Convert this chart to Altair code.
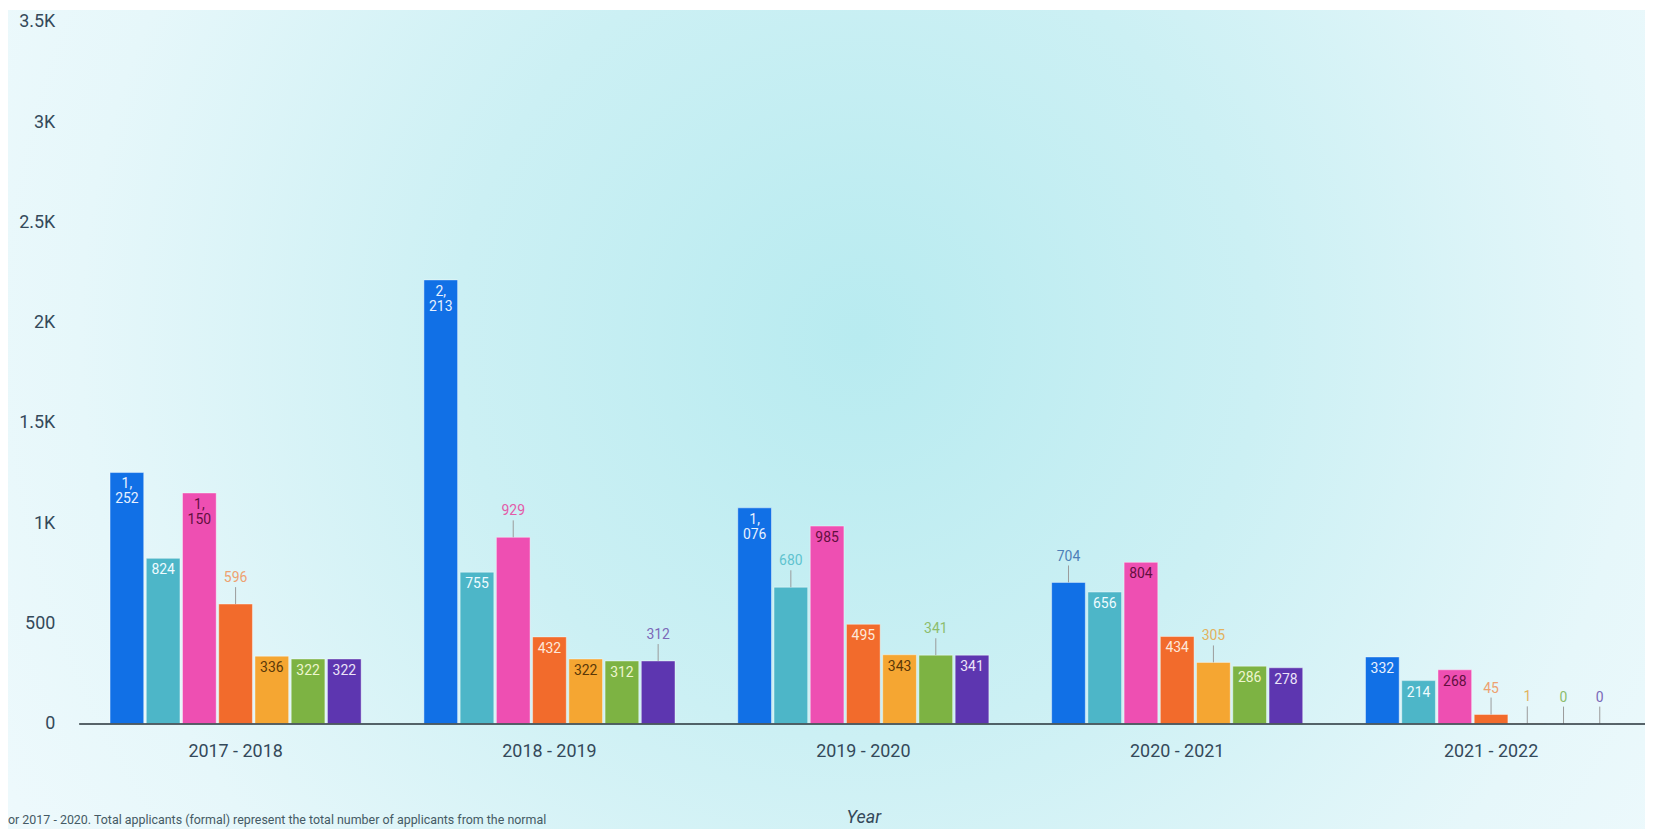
import altair as alt
import pandas as pd

years = ["2017 - 2018", "2018 - 2019", "2019 - 2020", "2020 - 2021", "2021 - 2022"]
series = ["Series 1", "Series 2", "Series 3", "Series 4", "Series 5", "Series 6", "Series 7"]

s1 = [1252, 2213, 1076, 704, 332]
s2 = [824, 755, 680, 656, 214]
s3 = [1150, 929, 985, 804, 268]
s4 = [596, 432, 495, 434, 45]
s5 = [336, 322, 343, 305, 1]
s6 = [322, 312, 341, 286, 0]
s7 = [322, 312, 341, 278, 0]
values = [s1, s2, s3, s4, s5, s6, s7]

# label drawn above the bar (with a leader line) instead of inside
o1 = [False, False, False, True, False]
o2 = [False, False, True, False, False]
o3 = [False, True, False, False, False]
o4 = [True, False, False, False, True]
o5 = [False, False, False, True, True]
o6 = [False, False, True, False, True]
o7 = [False, True, False, False, True]
outside = [o1, o2, o3, o4, o5, o6, o7]

bar_colors = ["#1170e6", "#4db6c8", "#ee4fb2", "#f26b2c", "#f5a632", "#7db343", "#5d36b0"]
inside_text = ["#e8f1ff", "#effbff", "#62103f", "#fde8da", "#5a3808", "#eef6cf", "#ebe4f8"]
outside_text = ["#4d7fb8", "#5fc3cf", "#e35aa8", "#eea170", "#e2b25e", "#8dbd6c", "#7b68b8"]

footnote = "or 2017 - 2020. Total applicants (formal) represent the total number of applicants from the normal"

rows = []
for si, name in enumerate(series):
    for yi, yr in enumerate(years):
        v = values[si][yi]
        out = outside[si][yi]
        lab = f"{v:,}"
        if not out and v >= 1000:
            lab = lab.replace(",", ",\n")
        rows.append({
            "year": yr, "series": name, "value": v, "label": lab,
            "outside": out,
            "tcolor": outside_text[si] if out else inside_text[si],
        })
df = pd.DataFrame(rows)

FONT = "Roboto"
AXIS_COLOR = "#34495a"

x_enc = alt.X("year:N", sort=years,
              scale=alt.Scale(range=[0, 1577], paddingInner=0.2, paddingOuter=0.1),
              axis=alt.Axis(title=None, labelFontSize=18, labelColor=AXIS_COLOR,
                            labelFont=FONT, labelPadding=19, ticks=False, zindex=1,
                            domainColor="#263238", domainWidth=1.5, labelAngle=0))
xo_enc = alt.XOffset("series:N", sort=series,
                     scale=alt.Scale(paddingInner=0.07, paddingOuter=0))
y_enc = alt.Y("value:Q", scale=alt.Scale(domain=[0, 3500], nice=False),
              axis=alt.Axis(title=None, values=[0, 500, 1000, 1500, 2000, 2500, 3000, 3500],
                            labelExpr="datum.value >= 1000 ? (datum.value / 1000) + 'K' : datum.value + ''",
                            grid=False, domain=False, ticks=False, labelFontSize=18, zindex=1,
                            labelColor=AXIS_COLOR, labelFont=FONT, labelPadding=24))

one = pd.DataFrame({"k": [0]})

bg = alt.Chart(one).mark_rect(
    fill={"gradient": "radial", "x1": 0.52, "y1": 0.45, "x2": 0.52, "y2": 0.45,
          "r1": 0, "r2": 0.7,
          "stops": [{"offset": 0, "color": "#b8ebf0"},
                    {"offset": 0.35, "color": "#ccf0f4"},
                    {"offset": 0.68, "color": "#e6f7fa"},
                    {"offset": 1, "color": "#f4fbfe"}]},
    strokeWidth=0,
).encode(x=alt.value(-71), x2=alt.value(1574), y=alt.value(-12), y2=alt.value(811))

base = alt.Chart(df)

bars = base.mark_bar(stroke="#ffffff", strokeWidth=0.6, strokeOpacity=0.7).encode(
    x=x_enc, xOffset=xo_enc, y=y_enc,
    color=alt.Color("series:N", scale=alt.Scale(domain=series, range=bar_colors), legend=None),
)

inside_labels = base.transform_filter("!datum.outside").mark_text(
    baseline="top", dy=5, fontSize=14, font=FONT, lineBreak="\n", lineHeight=15
).encode(x=x_enc, xOffset=xo_enc, y=y_enc, text="label:N",
         color=alt.Color("tcolor:N", scale=None))

leaders = base.transform_filter("datum.outside").mark_rule(
    color="#9a9a9a", strokeWidth=1, y2Offset=-17
).encode(x=x_enc, xOffset=xo_enc, y=y_enc, y2=alt.Y2("value:Q"))

outside_labels = base.transform_filter("datum.outside").mark_text(
    baseline="bottom", dy=-19, fontSize=14, font=FONT
).encode(x=x_enc, xOffset=xo_enc, y=y_enc, text="label:N",
         color=alt.Color("tcolor:N", scale=None))

year_title = alt.Chart(one).mark_text(
    text="Year", fontStyle="italic", fontSize=18, font=FONT, color=AXIS_COLOR
).encode(x=alt.value(789), y=alt.value(800))

note = alt.Chart(one).mark_text(
    text=footnote, fontSize=12.5, font=FONT, color="#455a64", align="left"
).encode(x=alt.value(-71), y=alt.value(802))

chart = alt.layer(bg, bars, inside_labels, leaders, outside_labels, year_title, note).properties(
    width=1574, height=705,
    padding={"left": 71, "top": 12, "right": 0, "bottom": 106},
    autosize=alt.AutoSizeParams(type="none"),
).configure_view(stroke=None)

chart.save("out.html", embed_options={"renderer": "svg", "actions": False})
